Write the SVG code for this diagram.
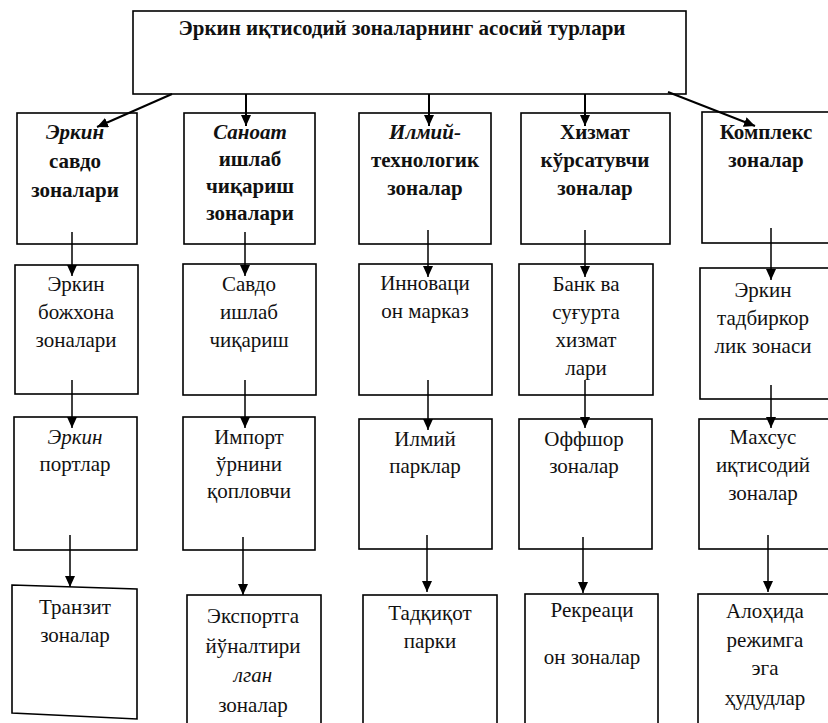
<svg xmlns="http://www.w3.org/2000/svg" width="828" height="723" viewBox="0 0 828 723">
<defs>
<marker id="ah" markerUnits="userSpaceOnUse" markerWidth="12" markerHeight="10" refX="11" refY="5" orient="auto">
<path d="M0,0 L11,5 L0,10 z" fill="#000"/>
</marker>
<style>
.box{fill:#fff;stroke:#000;stroke-width:1.6}
.t{font-family:"Liberation Serif","Times New Roman",serif;font-size:21px;fill:#111;text-anchor:middle}
.b{font-weight:bold}
.i{font-style:italic}
.c{stroke:#000;stroke-width:1.5;fill:none;marker-end:url(#ah)}
.c2{stroke-width:2}
</style>
</defs>
<rect width="828" height="723" fill="#fff"/>

<g id="top">
<rect class="box" x="133" y="11" width="553" height="83"/>
<text class="t b" x="402" y="35" font-size="21">Эркин иқтисодий зоналарнинг асосий турлари</text>
</g>

<!-- Row 1 -->
<g id="r1c1">
<rect class="box" x="17" y="113" width="120" height="131"/>
<text class="t b" x="75" y="139"><tspan class="i">Эркин</tspan><tspan x="75" dy="29">савдо</tspan><tspan x="75" dy="29">зоналари</tspan></text>
</g>
<g id="r1c2">
<rect class="box" x="184" y="113" width="131" height="131"/>
<text class="t b" x="250" y="139"><tspan class="i">Саноат</tspan><tspan x="250" dy="27">ишлаб</tspan><tspan x="250" dy="27">чиқариш</tspan><tspan x="250" dy="27">зоналари</tspan></text>
</g>
<g id="r1c3">
<rect class="box" x="359" y="113" width="132" height="131"/>
<text class="t b" x="425" y="139"><tspan class="i">Илмий-</tspan><tspan x="425" dy="28">технологик</tspan><tspan x="425" dy="28">зоналар</tspan></text>
</g>
<g id="r1c4">
<rect class="box" x="521" y="113" width="149" height="131"/>
<text class="t b" x="595" y="139">Хизмат<tspan x="595" dy="28">кўрсатувчи</tspan><tspan x="595" dy="28">зоналар</tspan></text>
</g>
<g id="r1c5">
<rect class="box" x="702" y="112" width="140" height="131"/>
<text class="t b" x="766" y="139">Комплекс<tspan x="766" dy="28">зоналар</tspan></text>
</g>

<!-- Row 2 -->
<g id="r2c1">
<rect class="box" x="15" y="265" width="123" height="129"/>
<text class="t" x="76" y="291">Эркин<tspan x="76" dy="28">божхона</tspan><tspan x="76" dy="28">зоналари</tspan></text>
</g>
<g id="r2c2">
<rect class="box" x="183" y="264" width="133" height="131"/>
<text class="t" x="249" y="291">Савдо<tspan x="249" dy="28">ишлаб</tspan><tspan x="249" dy="28">чиқариш</tspan></text>
</g>
<g id="r2c3">
<rect class="box" x="359" y="264" width="133" height="131"/>
<text class="t" x="425" y="290">Инноваци<tspan x="425" dy="28">он марказ</tspan></text>
</g>
<g id="r2c4">
<rect class="box" x="519" y="264" width="134" height="131"/>
<text class="t" x="586" y="291">Банк ва<tspan x="586" dy="28">суғурта</tspan><tspan x="586" dy="28">хизмат</tspan><tspan x="586" dy="28">лари</tspan></text>
</g>
<g id="r2c5">
<rect class="box" x="700" y="268" width="140" height="131"/>
<text class="t" x="763" y="297">Эркин<tspan x="763" dy="28">тадбиркор</tspan><tspan x="763" dy="28">лик зонаси</tspan></text>
</g>

<!-- Row 3 -->
<g id="r3c1">
<rect class="box" x="14" y="417" width="123" height="133"/>
<text class="t" x="75" y="444"><tspan class="i">Эркин</tspan><tspan x="75" dy="27">портлар</tspan></text>
</g>
<g id="r3c2">
<rect class="box" x="183" y="417" width="132" height="133"/>
<text class="t" x="249" y="444">Импорт<tspan x="249" dy="27">ўрнини</tspan><tspan x="249" dy="27">қопловчи</tspan></text>
</g>
<g id="r3c3">
<rect class="box" x="359" y="419" width="133" height="130"/>
<text class="t" x="425" y="446">Илмий<tspan x="425" dy="27">парклар</tspan></text>
</g>
<g id="r3c4">
<rect class="box" x="519" y="419" width="133" height="130"/>
<text class="t" x="584" y="446">Оффшор<tspan x="584" dy="27">зоналар</tspan></text>
</g>
<g id="r3c5">
<rect class="box" x="699" y="419" width="140" height="130"/>
<text class="t" x="763" y="444">Махсус<tspan x="763" dy="28">иқтисодий</tspan><tspan x="763" dy="28">зоналар</tspan></text>
</g>

<!-- Row 4 -->
<g id="r4c1">
<polygon class="box" points="12,585 137,589 137,719 12,713"/>
<text class="t" x="75" y="614">Транзит<tspan x="75" dy="28">зоналар</tspan></text>
</g>
<g id="r4c2">
<rect class="box" x="187" y="595" width="134" height="140"/>
<text class="t" x="253" y="623">Экспортга<tspan x="253" dy="30">йўналтири</tspan><tspan class="i" x="253" dy="29">лган</tspan><tspan x="253" dy="30">зоналар</tspan></text>
</g>
<g id="r4c3">
<rect class="box" x="363" y="595" width="134" height="140"/>
<text class="t" x="430" y="620">Тадқиқот<tspan x="430" dy="28">парки</tspan></text>
</g>
<g id="r4c4">
<rect class="box" x="525" y="594" width="133" height="140"/>
<text class="t" x="592" y="617">Рекреаци<tspan x="592" dy="47">он зоналар</tspan></text>
</g>
<g id="r4c5">
<rect class="box" x="698" y="594" width="142" height="140"/>
<text class="t" x="765" y="618">Алоҳида<tspan x="765" dy="29">режимга</tspan><tspan x="765" dy="28">эга</tspan><tspan x="765" dy="30">ҳудудлар</tspan></text>
</g>

<g id="connectors">
<line class="c c2" x1="172" y1="94" x2="97" y2="127"/>
<line class="c c2" x1="246" y1="94" x2="246" y2="126"/>
<line class="c c2" x1="429" y1="94" x2="429" y2="126"/>
<line class="c c2" x1="585" y1="94" x2="585" y2="126"/>
<line class="c c2" x1="668" y1="92" x2="755" y2="126"/>

<line class="c" x1="72" y1="232" x2="72" y2="276"/>
<line class="c" x1="245" y1="232" x2="245" y2="276"/>
<line class="c" x1="428" y1="230" x2="428" y2="277"/>
<line class="c" x1="585" y1="230" x2="585" y2="277"/>
<line class="c" x1="771" y1="228" x2="771" y2="280"/>

<line class="c" x1="72" y1="380" x2="72" y2="428"/>
<line class="c" x1="245" y1="380" x2="245" y2="428"/>
<line class="c" x1="428" y1="380" x2="428" y2="430"/>
<line class="c" x1="585" y1="380" x2="585" y2="428"/>
<line class="c" x1="771" y1="385" x2="771" y2="428"/>

<line class="c" x1="70" y1="535" x2="70" y2="587"/>
<line class="c" x1="243" y1="537" x2="243" y2="595"/>
<line class="c" x1="427" y1="535" x2="427" y2="592"/>
<line class="c" x1="583" y1="537" x2="583" y2="593"/>
<line class="c" x1="768" y1="535" x2="768" y2="592"/>
</g>
</svg>
